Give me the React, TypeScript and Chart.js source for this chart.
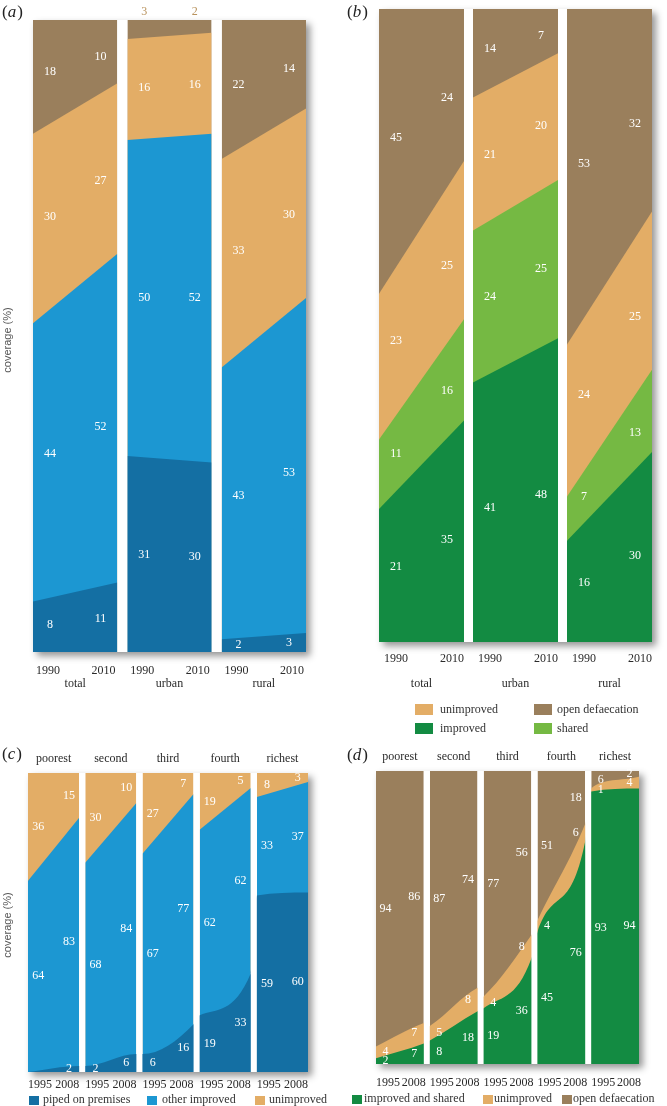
import React, { useEffect, useRef } from 'react';
import { Chart, registerables } from 'chart.js';

Chart.register(...registerables);

const W = 667;
const H = 1106;
const SERIF = '"Liberation Serif", "Times New Roman", serif';
const SANS = '"Liberation Sans", Arial, sans-serif';

// ---------- colours ----------
const C_BROWN = '#9a7f5c';
const C_ORANGE = '#e3ad66';
const C_BLUE = '#1c97d2';
const C_DBLUE = '#146fa3';
const C_DGREEN = '#138b42';
const C_LGREEN = '#75b943';

// ---------- panel (a) : drinking water, 1990 / 2010 ----------
const groupsA = ['total', 'urban', 'rural'];
const yearsA = ['1990', '2010'];
const pipedA = [[8, 11], [31, 30], [2, 3]];
const otherImprovedA = [[44, 52], [50, 52], [43, 53]];
const unimprovedA = [[30, 27], [16, 16], [33, 30]];
const surfaceA = [[18, 10], [3, 2], [22, 14]];

// ---------- panel (b) : sanitation, 1990 / 2010 ----------
const groupsB = ['total', 'urban', 'rural'];
const yearsB = ['1990', '2010'];
const improvedB = [[21, 35], [41, 48], [16, 30]];
const sharedB = [[11, 16], [24, 25], [7, 13]];
const unimprovedB = [[23, 25], [21, 20], [24, 25]];
const openB = [[45, 24], [14, 7], [53, 32]];

// ---------- panel (c) : water by wealth quintile, 1995 / 2008 ----------
const groupsC = ['poorest', 'second', 'third', 'fourth', 'richest'];
const yearsC = ['1995', '2008'];
const pipedC = [[0, 2], [2, 6], [6, 16], [19, 33], [59, 60]];
const otherImprovedC = [[64, 83], [68, 84], [67, 77], [62, 62], [33, 37]];
const unimprovedC = [[36, 15], [30, 10], [27, 7], [19, 5], [8, 3]];

// ---------- panel (d) : sanitation by wealth quintile, 1995 / 2008 ----------
const groupsD = ['poorest', 'second', 'third', 'fourth', 'richest'];
const yearsD = ['1995', '2008'];
const improvedSharedD = [[2, 7], [8, 18], [19, 36], [45, 76], [93, 94]];
const unimprovedD = [[4, 7], [5, 8], [4, 8], [4, 6], [1, 4]];
const openD = [[94, 86], [87, 74], [77, 56], [51, 18], [6, 2]];

type Series = { name: string; color: string; values: number[][]; curved?: 'monotone' | 'bezier' };
type LegendItem = { s: number; sx: number; sy: number; sw: number; sh: number; tx: number; ty: number };
type Panel = {
  id: string;
  letter: string;
  left: number; right: number; top: number; bottom: number;
  gap: number;
  groups: string[];
  years: string[];
  series: Series[];
  evalAtLabel: boolean;
  yearDy: number;
  nameDy: number;
  nameFromTop: boolean;
  insetL: number;
  insetR: number;
  letterX: number;
  letterY: number;
  yTitle?: { x: number; y: number };
  legend: LegendItem[];
  above?: { series: number; group: number; dy: number; color: string };
};

const panels: Panel[] = [
  {
    id: 'a', letter: 'a', left: 33, right: 306, top: 20, bottom: 652, gap: 0.117,
    groups: groupsA, years: yearsA,
    series: [
      { name: 'piped on premises', color: C_DBLUE, values: pipedA },
      { name: 'other improved', color: C_BLUE, values: otherImprovedA },
      { name: 'unimproved', color: C_ORANGE, values: unimprovedA },
      { name: 'surface water', color: C_BROWN, values: surfaceA },
    ],
    evalAtLabel: true, yearDy: 19, nameDy: 32, nameFromTop: false, insetL: 3, insetR: 2,
    letterX: 2, letterY: 13, yTitle: { x: 8, y: 340 }, legend: [],
    above: { series: 3, group: 1, dy: -8, color: '#b8925c' },
  },
  {
    id: 'b', letter: 'b', left: 379, right: 652, top: 9, bottom: 642, gap: 0.106,
    groups: groupsB, years: yearsB,
    series: [
      { name: 'improved', color: C_DGREEN, values: improvedB },
      { name: 'shared', color: C_LGREEN, values: sharedB },
      { name: 'unimproved', color: C_ORANGE, values: unimprovedB },
      { name: 'open defaecation', color: C_BROWN, values: openB },
    ],
    evalAtLabel: true, yearDy: 17, nameDy: 42, nameFromTop: false, insetL: 5, insetR: 0,
    letterX: 347, letterY: 13,
    legend: [
      { s: 2, sx: 415, sy: 704, sw: 18, sh: 11, tx: 440, ty: 710 },
      { s: 3, sx: 534, sy: 704, sw: 18, sh: 11, tx: 557, ty: 710 },
      { s: 0, sx: 415, sy: 723, sw: 18, sh: 11, tx: 440, ty: 729 },
      { s: 1, sx: 534, sy: 723, sw: 18, sh: 11, tx: 557, ty: 729 },
    ],
  },
  {
    id: 'c', letter: 'c', left: 28, right: 308, top: 773, bottom: 1072, gap: 0.118,
    groups: groupsC, years: yearsC,
    series: [
      { name: 'piped on premises', color: C_DBLUE, values: pipedC, curved: 'monotone' },
      { name: 'other improved', color: C_BLUE, values: otherImprovedC },
      { name: 'unimproved', color: C_ORANGE, values: unimprovedC },
    ],
    evalAtLabel: false, yearDy: 13, nameDy: -14, nameFromTop: true, insetL: 0, insetR: 0,
    letterX: 2, letterY: 755, yTitle: { x: 8, y: 925 },
    legend: [
      { s: 0, sx: 29, sy: 1096, sw: 10, sh: 9, tx: 43, ty: 1100 },
      { s: 1, sx: 147, sy: 1096, sw: 10, sh: 9, tx: 162, ty: 1100 },
      { s: 2, sx: 255, sy: 1096, sw: 10, sh: 9, tx: 269, ty: 1100 },
    ],
  },
  {
    id: 'd', letter: 'd', left: 376, right: 639, top: 771, bottom: 1064, gap: 0.125,
    groups: groupsD, years: yearsD,
    series: [
      { name: 'improved and shared', color: C_DGREEN, values: improvedSharedD, curved: 'monotone' },
      { name: 'unimproved', color: C_ORANGE, values: unimprovedD, curved: 'bezier' },
      { name: 'open defaecation', color: C_BROWN, values: openD },
    ],
    evalAtLabel: false, yearDy: 19, nameDy: -14, nameFromTop: true, insetL: 0, insetR: -2,
    letterX: 347, letterY: 756,
    legend: [
      { s: 0, sx: 352, sy: 1095, sw: 10, sh: 9, tx: 364, ty: 1099 },
      { s: 1, sx: 483, sy: 1095, sw: 10, sh: 9, tx: 494, ty: 1099 },
      { s: 2, sx: 562, sy: 1095, sw: 10, sh: 9, tx: 573, ty: 1099 },
    ],
  },
];

function groupX(p: Panel, g: number): [number, number] {
  const x0 = g * (1 + p.gap);
  return [x0, x0 + 1];
}

function build(p: Panel) {
  const cum: number[][][] = p.series.map((_, s) =>
    p.groups.map((_, g) =>
      [0, 1].map((e) => p.series.slice(0, s + 1).reduce((acc, ser) => acc + ser.values[g][e], 0))
    )
  );
  const common = {
    fill: 'origin',
    borderWidth: 0,
    borderColor: 'rgba(0,0,0,0)',
    pointRadius: 0,
    pointHoverRadius: 0,
  };
  const datasets: any[] = [];
  p.series.forEach((ser, s) => {
    if (ser.curved) {
      const data: { x: number; y: number }[] = [];
      p.groups.forEach((_, g) => {
        const [x0, x1] = groupX(p, g);
        data.push({ x: x0, y: cum[s][g][0] }, { x: x1, y: cum[s][g][1] });
      });
      const curve =
        ser.curved === 'monotone'
          ? { cubicInterpolationMode: 'monotone' }
          : { cubicInterpolationMode: 'default', tension: 0.4 };
      datasets.push({ ...common, ...curve, label: ser.name, data, backgroundColor: ser.color });
    } else {
      p.groups.forEach((gName, g) => {
        const [x0, x1] = groupX(p, g);
        datasets.push({
          ...common,
          label: ser.name + ' ' + gName,
          data: [{ x: x0, y: cum[s][g][0] }, { x: x1, y: cum[s][g][1] }],
          backgroundColor: ser.color,
          tension: 0,
        });
      });
    }
  });
  return { datasets, cum };
}

function makePlugin(p: Panel, cum: number[][][]) {
  return {
    id: 'decor_' + p.id,
    beforeDatasetsDraw(chart: any) {
      const { ctx, chartArea: a } = chart;
      ctx.save();
      ctx.shadowColor = 'rgba(0,0,0,0.42)';
      ctx.shadowBlur = 7;
      ctx.shadowOffsetX = 4;
      ctx.shadowOffsetY = 4;
      ctx.fillStyle = '#ffffff';
      ctx.fillRect(a.left, a.top, a.right - a.left, a.bottom - a.top);
      ctx.restore();
    },
    afterDatasetsDraw(chart: any) {
      const { ctx, chartArea: a, scales } = chart;
      const xs = scales.x;
      const ys = scales.y;
      const G = p.groups.length;
      ctx.save();
      ctx.fillStyle = '#ffffff';
      for (let g = 0; g < G - 1; g++) {
        const x1 = xs.getPixelForValue(groupX(p, g)[1]);
        const x2 = xs.getPixelForValue(groupX(p, g + 1)[0]);
        ctx.fillRect(x1, a.top, x2 - x1, a.bottom - a.top);
      }
      ctx.font = `12px ${SERIF}`;
      ctx.textAlign = 'center';
      ctx.textBaseline = 'middle';
      p.series.forEach((ser, s) => {
        p.groups.forEach((_, g) => {
          [0, 1].forEach((e) => {
            const v = ser.values[g][e];
            if (v === 0) return;
            const f = e === 0 ? 0.2 : 0.8;
            const lower = s === 0 ? [0, 0] : cum[s - 1][g];
            const upper = cum[s][g];
            let lo: number, up: number;
            if (p.evalAtLabel) {
              lo = lower[0] + (lower[1] - lower[0]) * f;
              up = upper[0] + (upper[1] - upper[0]) * f;
            } else {
              lo = lower[e];
              up = upper[e];
            }
            const x = xs.getPixelForValue(groupX(p, g)[0] + f);
            let y = ys.getPixelForValue((lo + up) / 2);
            ctx.fillStyle = '#ffffff';
            if (p.above && p.above.series === s && p.above.group === g) {
              y = a.top + p.above.dy;
              ctx.fillStyle = p.above.color;
            }
            ctx.fillText(String(v), x, y);
          });
        });
      });
      ctx.restore();
    },
    afterDraw(chart: any) {
      const { ctx, chartArea: a, scales } = chart;
      const xs = scales.x;
      ctx.save();
      ctx.fillStyle = '#2a2a2a';
      ctx.font = `12px ${SERIF}`;
      ctx.textBaseline = 'middle';
      p.groups.forEach((name, g) => {
        const [x0, x1] = groupX(p, g);
        const px0 = xs.getPixelForValue(x0);
        const px1 = xs.getPixelForValue(x1);
        ctx.textAlign = 'left';
        ctx.fillText(p.years[0], px0 + p.insetL, a.bottom + p.yearDy);
        ctx.textAlign = 'right';
        ctx.fillText(p.years[1], px1 - p.insetR, a.bottom + p.yearDy);
        ctx.textAlign = 'center';
        const ny = p.nameFromTop ? a.top + p.nameDy : a.bottom + p.nameDy;
        ctx.fillText(name, (px0 + px1) / 2, ny);
      });
      // panel letter
      ctx.textAlign = 'left';
      ctx.fillStyle = '#222';
      let lx = p.letterX;
      ctx.font = `17px ${SERIF}`;
      ctx.fillText('(', lx, p.letterY);
      lx += ctx.measureText('(').width;
      ctx.font = `italic 17px ${SERIF}`;
      ctx.fillText(p.letter, lx, p.letterY);
      lx += ctx.measureText(p.letter).width + 1;
      ctx.font = `17px ${SERIF}`;
      ctx.fillText(')', lx, p.letterY);
      // y title
      if (p.yTitle) {
        ctx.save();
        ctx.translate(p.yTitle.x, p.yTitle.y);
        ctx.rotate(-Math.PI / 2);
        ctx.font = `11px ${SANS}`;
        ctx.fillStyle = '#555';
        ctx.textAlign = 'center';
        ctx.fillText('coverage (%)', 0, 0);
        ctx.restore();
      }
      // legend
      ctx.font = `12px ${SERIF}`;
      ctx.textAlign = 'left';
      p.legend.forEach((it) => {
        const ser = p.series[it.s];
        ctx.fillStyle = ser.color;
        ctx.fillRect(it.sx, it.sy, it.sw, it.sh);
        ctx.fillStyle = '#333';
        ctx.fillText(ser.name, it.tx, it.ty);
      });
      ctx.restore();
    },
  };
}

function PanelChart({ panel }: { panel: Panel }) {
  const ref = useRef<HTMLCanvasElement>(null);
  useEffect(() => {
    if (!ref.current) return;
    const { datasets, cum } = build(panel);
    const total = panel.groups.length + (panel.groups.length - 1) * panel.gap;
    const chart = new Chart(ref.current, {
      type: 'line',
      data: { datasets },
      options: {
        responsive: false,
        animation: false,
        devicePixelRatio: 1,
        events: [],
        layout: {
          padding: { left: panel.left, right: W - panel.right, top: panel.top, bottom: H - panel.bottom },
        },
        scales: {
          x: { type: 'linear', min: 0, max: total, display: false },
          y: { type: 'linear', min: 0, max: 100, display: false },
        },
        plugins: {
          legend: { display: false },
          tooltip: { enabled: false },
          title: { display: false },
        },
      } as any,
      plugins: [makePlugin(panel, cum)],
    } as any);
    return () => chart.destroy();
  }, [panel]);
  return (
    <canvas
      ref={ref}
      width={W}
      height={H}
      style={{ position: 'absolute', left: 0, top: 0, width: W, height: H }}
    />
  );
}

export default function App() {
  return (
    <div
      style={{
        position: 'absolute',
        left: 0,
        top: 0,
        width: W,
        height: H,
        background: '#ffffff',
        overflow: 'hidden',
      }}
    >
      {panels.map((p) => (
        <PanelChart key={p.id} panel={p} />
      ))}
    </div>
  );
}
